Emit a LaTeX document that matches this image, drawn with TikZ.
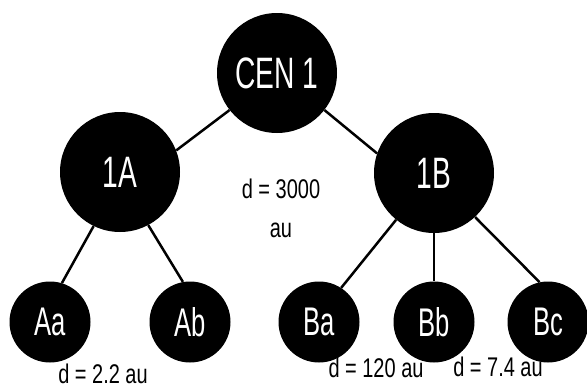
\documentclass[tikz,border=0pt]{standalone}
\usepackage{fontspec}
\setmainfont{Liberation Sans}
\newfontfamily\bigf{Liberation Sans}[FakeStretch=0.64]
\newfontfamily\smallf{Liberation Sans}[FakeStretch=0.74]
\usetikzlibrary{backgrounds}
\tikzset{
  star/.style={circle, fill=black, draw=none, text=white, inner sep=0pt},
  bigstar/.style={star, minimum size=120pt, font=\bigf\fontsize{44}{44}\selectfont},
  smallstar/.style={star, minimum size=81pt, font=\bigf\fontsize{40}{40}\selectfont},
  link/.style={line width=2.5pt},
  dist/.style={font=\smallf\fontsize{27}{39}\selectfont, inner sep=0pt, anchor=base, align=center}
}
\begin{document}
\begin{tikzpicture}[x=1pt,y=-1pt]
\useasboundingbox (0,0) rectangle (587,389);
\node[bigstar] (cen) at (277,73) {CEN 1};
\node[bigstar] (a) at (120,172) {1A};
\node[bigstar] (b) at (434,173) {1B};
\node[smallstar] (aa) at (50,322) {Aa};
\node[smallstar] (ab) at (190,322) {Ab};
\node[smallstar] (ba) at (319,322) {Ba};
\node[smallstar] (bb) at (434,322) {Bb};
\node[smallstar] (bc) at (548,322) {Bc};
\begin{scope}[on background layer]
\draw[link] (cen.218) -- (a.21);
\draw[link] (cen.322) -- (b.161);
\draw[link] (a.244) -- (aa.73);
\draw[link] (a.298) -- (ab.100);
\draw[link] (b.231) -- (ba.57);
\draw[link] (b.270) -- (bb.90);
\draw[link] (b.313) -- (bc.102);
\end{scope}
\node[dist] (d1) at (281,237) {d = 3000\\au};
\node[dist] (d2) at (103,383) {d = 2.2 au};
\node[dist] (d3) at (376,377) {d = 120 au};
\node[dist] (d4) at (498,376) {d = 7.4 au};
\end{tikzpicture}
\end{document}
